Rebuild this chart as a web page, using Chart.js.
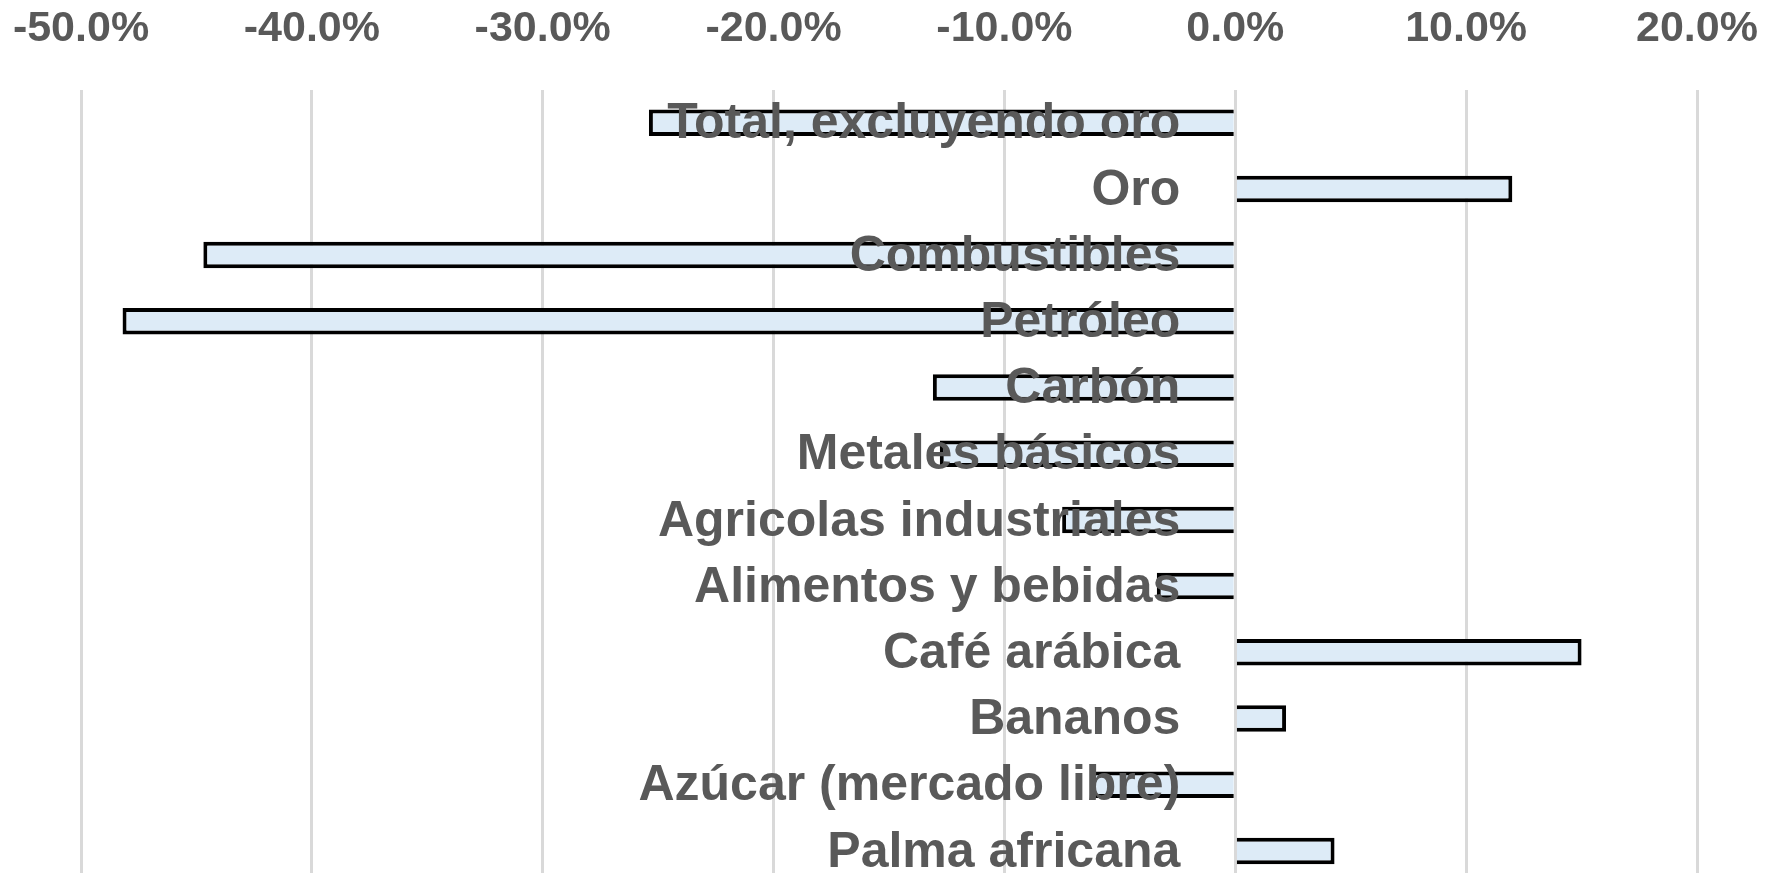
<!DOCTYPE html>
<html>
    <head>
        <meta charset="utf-8">
        <title>Variación de precios de productos básicos</title>
        <script src="https://cdn.jsdelivr.net/npm/chart.js@4.4.1/dist/chart.umd.min.js"></script>
        <style>
            html, body { margin: 0; padding: 0; overflow: hidden; background: #fff; }
            #wrap { width: 1774px; height: 886px; }
        </style>
    </head>
    <body>
        <div id="wrap"><canvas id="myChart"></canvas></div>

        <script>
        // categories, top to bottom
        const categorias = [
            'Total, excluyendo oro', 'Oro', 'Combustibles', 'Petróleo', 'Carbón',
            'Metales básicos', 'Agricolas industriales', 'Alimentos y bebidas',
            'Café arábica', 'Bananos', 'Azúcar (mercado libre)', 'Palma africana'
        ];
        // percentage change
        const variacion = [-25.4, 12.0, -44.7, -48.2, -13.1, -12.8, -7.5, -3.4, 15.0, 2.2, -6.2, 4.3];
        // x axis ticks (percent)
        const ejeMin = -50;
        const ejeMax = 20;
        const ejePaso = 10;

        const gris = '#595959';
        const fuente = '"Liberation Sans", Arial, sans-serif';

        // category names sit just left of the 0% line, over the bars (like the Excel original)
        const etiquetasEnCero = {
            id: 'etiquetasEnCero',
            afterDatasetsDraw: function (chart) {
                const c = chart.ctx;
                const xs = chart.scales.x;
                const ys = chart.scales.y;
                const x0 = xs.getPixelForValue(0) - 55;
                c.save();
                c.font = 'bold 50px ' + fuente;
                c.fillStyle = gris;
                c.textAlign = 'right';
                c.textBaseline = 'middle';
                categorias.forEach(function (nombre, i) {
                    c.fillText(nombre, x0, ys.getPixelForValue(i) + 2);
                });
                c.restore();
            }
        };

        const ctx = document.getElementById('myChart').getContext('2d');
        let myChart = new Chart(ctx, {
            type: 'bar',
            data: {
                labels: categorias,
                datasets: [{
                    data: variacion,
                    backgroundColor: '#DDEBF7',
                    borderColor: '#000000',
                    borderWidth: 4,
                    categoryPercentage: 1,
                    barPercentage: 0.40
                }]
            },
            options: {
                indexAxis: 'y',
                responsive: true,
                maintainAspectRatio: false,
                animation: false,
                layout: {
                    padding: { left: 81, right: 77, top: -32, bottom: 2 }
                },
                plugins: {
                    legend: { display: false },
                    tooltip: { enabled: false }
                },
                scales: {
                    x: {
                        position: 'top',
                        min: ejeMin,
                        max: ejeMax,
                        border: { display: false },
                        grid: {
                            color: '#D9D9D9',
                            lineWidth: 3,
                            drawTicks: false
                        },
                        ticks: {
                            stepSize: ejePaso,
                            padding: 35,
                            color: gris,
                            font: { family: fuente, size: 43, weight: 'bold' },
                            callback: function (v) { return v.toFixed(1) + '%'; }
                        },
                        // let the layout padding alone decide the plot width
                        afterFit: function (scale) {
                            scale.paddingLeft = 0;
                            scale.paddingRight = 0;
                        }
                    },
                    y: {
                        display: false
                    }
                }
            },
            plugins: [etiquetasEnCero]
        });
        </script>
    </body>
</html>
